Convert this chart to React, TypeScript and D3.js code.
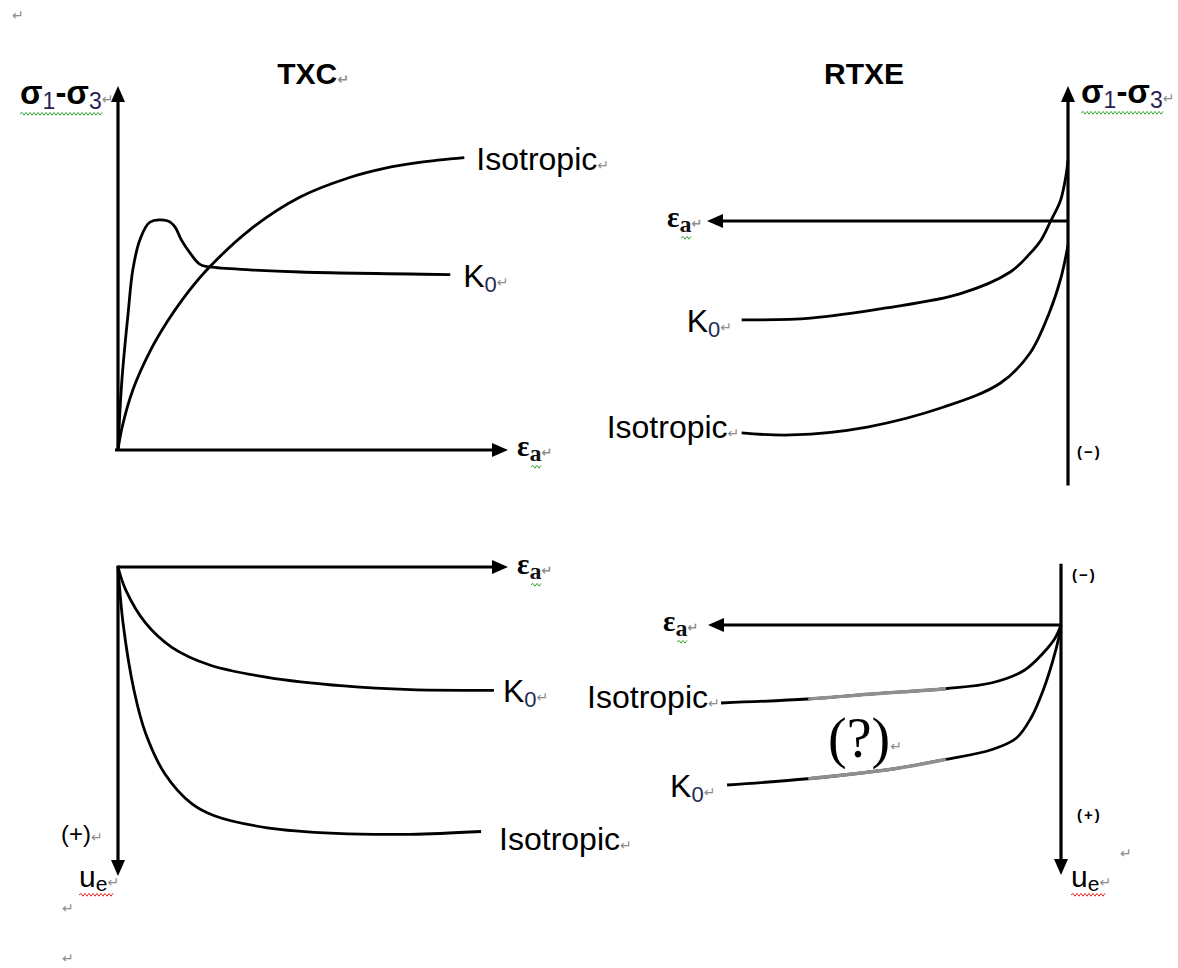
import React from "react";
import * as d3 from "d3";

type Pt = [number, number];

// Triaxial compression (TXC): deviator stress vs axial strain (normalised units)
const txcStressIsotropic: Pt[] = [
  [0, 0], [0.01, 0.06], [0.038, 0.165], [0.082, 0.271], [0.126, 0.352],
  [0.167, 0.416], [0.228, 0.495], [0.338, 0.605], [0.467, 0.695], [0.592, 0.748],
  [0.68, 0.773], [0.773, 0.79], [0.888, 0.803],
];
const txcStressK0: Pt[] = [
  [0, 0], [0.01, 0.192], [0.026, 0.376], [0.038, 0.495], [0.056, 0.577],
  [0.082, 0.626], [0.128, 0.629], [0.146, 0.613], [0.162, 0.578], [0.185, 0.541],
  [0.21, 0.51], [0.236, 0.503], [0.338, 0.495], [0.467, 0.489], [0.852, 0.482],
];

// TXC: excess pore pressure vs axial strain (positive downward)
const txcPoreK0: Pt[] = [
  [0, 0], [0.02, 0.075], [0.071, 0.182], [0.138, 0.26], [0.237, 0.318],
  [0.383, 0.357], [0.579, 0.385], [0.75, 0.397], [0.964, 0.399],
];
const txcPoreIsotropic: Pt[] = [
  [0, 0], [0.013, 0.182], [0.041, 0.399], [0.071, 0.539], [0.12, 0.669],
  [0.189, 0.766], [0.247, 0.805], [0.383, 0.844], [0.559, 0.862],
  [0.75, 0.865], [0.931, 0.856],
];

// Reduced triaxial extension (RTXE): deviator stress vs axial strain
const rtxeStressK0: Pt[] = [
  [0, 0.45], [0.006, 0.33], [0.021, 0.15], [0.048, 0.0], [0.075, -0.142],
  [0.105, -0.24], [0.16, -0.378], [0.3, -0.54], [0.504, -0.644],
  [0.713, -0.719], [0.904, -0.733],
];
const rtxeStressIsotropic: Pt[] = [
  [0, -0.178], [0.019, -0.415], [0.052, -0.681], [0.105, -0.978],
  [0.187, -1.2], [0.344, -1.378], [0.556, -1.526], [0.766, -1.585], [0.904, -1.57],
];

// RTXE: excess pore pressure vs axial strain
const rtxePoreIsotropic: Pt[] = [
  [0, 0], [0.017, 0.053], [0.051, 0.113], [0.105, 0.182], [0.195, 0.231],
  [0.328, 0.255], [0.528, 0.275], [0.718, 0.296], [0.963, 0.312],
];
const rtxePoreK0: Pt[] = [
  [0, 0], [0.006, 0.049], [0.023, 0.142], [0.051, 0.263], [0.085, 0.372],
  [0.127, 0.453], [0.195, 0.498], [0.328, 0.538], [0.472, 0.575],
  [0.718, 0.615], [0.946, 0.64],
];

const panelTitles = ["TXC", "RTXE"];
const curveNames = { iso: "Isotropic", k0: "K" };

// Scales for the four panels
const txcX = d3.scaleLinear().domain([0, 1]).range([118, 508]);
const txcStressY = d3.scaleLinear().domain([0, 1]).range([450, 86]);
const txcPoreY = d3.scaleLinear().domain([0, 1]).range([567, 876]);
const rtxeX = d3.scaleLinear().domain([0, 1]).range([1068, 707]);
const rtxeStressY = d3.scaleLinear().domain([0, 1]).range([221, 86]);
const rtxeStressYMin = -1.96;
const rtxePoreX = d3.scaleLinear().domain([0, 1]).range([1061, 708]);
const rtxePoreY = d3.scaleLinear().domain([0, 1]).range([625, 875]);
const rtxePoreYMin = -0.245;

const SANS = "'Liberation Sans', Arial, sans-serif";
const SERIF = "'Liberation Serif', 'Times New Roman', serif";
const INK = "#000";
const MARK = "#8c8c8c";
const LABEL_SIZE = 32;

const makeLine = (xs: d3.ScaleLinear<number, number>, ys: d3.ScaleLinear<number, number>) =>
  d3
    .line<Pt>()
    .x((d) => xs(d[0]))
    .y((d) => ys(d[1]))
    .curve(d3.curveCatmullRom.alpha(0.5));

type Dir = "up" | "down" | "left" | "right";
function arrowHead(x: number, y: number, dir: Dir, len = 16, half = 7) {
  const pts: Pt[] =
    dir === "up"
      ? [[x, y], [x - half, y + len], [x + half, y + len]]
      : dir === "down"
      ? [[x, y], [x - half, y - len], [x + half, y - len]]
      : dir === "left"
      ? [[x, y], [x + len, y - half], [x + len, y + half]]
      : [[x, y], [x - len, y - half], [x - len, y + half]];
  return <polygon points={pts.map((p) => p.join(",")).join(" ")} fill={INK} />;
}

function wavy(x0: number, x1: number, y: number, color: string) {
  const step = 2;
  let d = `M${x0},${y}`;
  let up = true;
  for (let x = x0 + step; x <= x1; x += step) {
    d += ` L${x},${up ? y - 1.6 : y + 1.2}`;
    up = !up;
  }
  return <path d={d} fill="none" stroke={color} strokeWidth={1} />;
}

const Ret = ({ dy = 0, size = 14 }: { dy?: number; size?: number }) => (
  <tspan fill={MARK} fontFamily="'DejaVu Sans', sans-serif" fontSize={size} dy={dy}>
    {"\u21B5"}
  </tspan>
);

function SigmaLabel({ x, y }: { x: number; y: number }) {
  return (
    <g>
      <text x={x} y={y} fontFamily={SANS} fontSize={33} fill={INK}>
        <tspan fontWeight="bold">σ</tspan>
        <tspan fontSize={23} dy={5} fill="#2a1f55">1</tspan>
        <tspan fontWeight="bold" dy={-5}>-σ</tspan>
        <tspan fontSize={23} dy={5} fill="#2a1f55">3</tspan>
        <Ret dy={-5} />
      </text>
      {wavy(x, x + 83, y + 10, "#3aa83a")}
    </g>
  );
}

function EpsLabel({ x, y }: { x: number; y: number }) {
  return (
    <g>
      <text x={x} y={y} fontFamily={SERIF} fontWeight="bold" fontSize={29} fill={INK}>
        <tspan>ε</tspan>
        <tspan fontSize={24} dy={5} fill="#111">a</tspan>
        <Ret dy={-4} size={13} />
      </text>
      {wavy(x + 14, x + 24, y + 11, "#3aa83a")}
    </g>
  );
}

function K0Label({ x, y }: { x: number; y: number }) {
  return (
    <text x={x} y={y} fontFamily={SANS} fontSize={LABEL_SIZE} fill={INK}>
      <tspan>{curveNames.k0}</tspan>
      <tspan fontSize={22} dy={5} fill="#1f2a55">0</tspan>
      <Ret dy={-5} />
    </text>
  );
}

function IsoLabel({ x, y }: { x: number; y: number }) {
  return (
    <text x={x} y={y} fontFamily={SANS} fontSize={LABEL_SIZE} fill={INK}>
      {curveNames.iso}
      <Ret />
    </text>
  );
}

function UeLabel({ x, y }: { x: number; y: number }) {
  return (
    <g>
      <text x={x} y={y} fontFamily={SANS} fontSize={30} fill={INK}>
        <tspan>u</tspan>
        <tspan fontSize={21} dy={4}>e</tspan>
        <Ret dy={-4} />
      </text>
      {wavy(x, x + 34, y + 8, "#e02a2a")}
    </g>
  );
}

const SignLabel = ({ x, y, s }: { x: number; y: number; s: string }) => (
  <text x={x} y={y} fontFamily={SANS} fontWeight="bold" fontSize={15} letterSpacing={2} fill={INK}>
    {s}
  </text>
);

export default function App() {
  const lTxcS = makeLine(txcX, txcStressY);
  const lTxcP = makeLine(txcX, txcPoreY);
  const lRtS = makeLine(rtxeX, rtxeStressY);
  const lRtP = makeLine(rtxePoreX, rtxePoreY);

  const axisW = 3.2;
  const curveW = 2.8;
  const last = (a: Pt[]) => a[a.length - 1];
  const paleLeft = rtxePoreX(0.716);
  const paleRight = rtxePoreX(0.326);

  return (
    <svg
      width={1178}
      height={968}
      style={{ position: "absolute", left: 0, top: 0, background: "#fff" }}
    >
      <defs>
        <clipPath id="rt-pale">
          <rect x={paleLeft} y={660} width={paleRight - paleLeft} height={140} />
        </clipPath>
      </defs>
      <rect width={1178} height={968} fill="#fff" />

      {/* stray paragraph marks */}
      <text x={12} y={20}><Ret /></text>
      <text x={62} y={913}><Ret /></text>
      <text x={62} y={963}><Ret /></text>
      <text x={1120} y={858}><Ret /></text>

      {/* titles */}
      <text x={313} y={84} textAnchor="middle" fontFamily={SANS} fontWeight="bold" fontSize={30}>
        {panelTitles[0]}
        <Ret />
      </text>
      <text x={864} y={84} textAnchor="middle" fontFamily={SANS} fontWeight="bold" fontSize={30}>
        {panelTitles[1]}
      </text>

      {/* ---- TXC stress panel ---- */}
      <line x1={txcX(0)} y1={txcStressY(0)} x2={txcX(0)} y2={txcStressY(1) + 10} stroke={INK} strokeWidth={axisW} />
      {arrowHead(txcX(0), txcStressY(1), "up")}
      <line x1={txcX(0) - 3} y1={txcStressY(0)} x2={txcX(1) - 10} y2={txcStressY(0)} stroke={INK} strokeWidth={axisW} />
      {arrowHead(txcX(1), txcStressY(0), "right")}
      <path d={lTxcS(txcStressIsotropic) || ""} fill="none" stroke={INK} strokeWidth={curveW} />
      <path d={lTxcS(txcStressK0) || ""} fill="none" stroke={INK} strokeWidth={curveW} />
      <SigmaLabel x={20} y={104} />
      <IsoLabel x={txcX(last(txcStressIsotropic)[0]) + 12} y={txcStressY(last(txcStressIsotropic)[1]) + 12} />
      <K0Label x={txcX(last(txcStressK0)[0]) + 13} y={txcStressY(last(txcStressK0)[1]) + 12} />
      <EpsLabel x={txcX(1) + 9} y={txcStressY(0) + 6} />

      {/* ---- TXC pore-pressure panel ---- */}
      <line x1={txcX(0)} y1={txcPoreY(0)} x2={txcX(1) - 10} y2={txcPoreY(0)} stroke={INK} strokeWidth={axisW} />
      {arrowHead(txcX(1), txcPoreY(0), "right")}
      <line x1={txcX(0)} y1={txcPoreY(0) - 1.5} x2={txcX(0)} y2={txcPoreY(1) - 10} stroke={INK} strokeWidth={axisW} />
      {arrowHead(txcX(0), txcPoreY(1), "down")}
      <path d={lTxcP(txcPoreK0) || ""} fill="none" stroke={INK} strokeWidth={curveW} />
      <path d={lTxcP(txcPoreIsotropic) || ""} fill="none" stroke={INK} strokeWidth={curveW} />
      <EpsLabel x={txcX(1) + 9} y={txcPoreY(0) + 7} />
      <K0Label x={txcX(last(txcPoreK0)[0]) + 9} y={txcPoreY(last(txcPoreK0)[1]) + 12} />
      <IsoLabel x={txcX(last(txcPoreIsotropic)[0]) + 18} y={txcPoreY(last(txcPoreIsotropic)[1]) + 18} />
      <text x={61} y={842} fontFamily={SANS} fontSize={24} fill={INK}>
        (+)
        <Ret />
      </text>
      <UeLabel x={79} y={887} />

      {/* ---- RTXE stress panel ---- */}
      <line x1={rtxeX(0)} y1={rtxeStressY(rtxeStressYMin)} x2={rtxeX(0)} y2={rtxeStressY(1) + 10} stroke={INK} strokeWidth={axisW} />
      {arrowHead(rtxeX(0), rtxeStressY(1), "up")}
      <line x1={rtxeX(0)} y1={rtxeStressY(0)} x2={rtxeX(1) + 10} y2={rtxeStressY(0)} stroke={INK} strokeWidth={axisW} />
      {arrowHead(rtxeX(1), rtxeStressY(0), "left")}
      <path d={lRtS(rtxeStressK0) || ""} fill="none" stroke={INK} strokeWidth={curveW} />
      <path d={lRtS(rtxeStressIsotropic) || ""} fill="none" stroke={INK} strokeWidth={curveW} />
      <SigmaLabel x={1081} y={103} />
      <EpsLabel x={rtxeX(1) - 40} y={rtxeStressY(0) + 6} />
      <K0Label x={rtxeX(last(rtxeStressK0)[0]) - 55} y={rtxeStressY(last(rtxeStressK0)[1]) + 12} />
      <IsoLabel x={rtxeX(last(rtxeStressIsotropic)[0]) - 135} y={rtxeStressY(last(rtxeStressIsotropic)[1]) + 5} />
      <SignLabel x={1077} y={457} s="(−)" />

      {/* ---- RTXE pore-pressure panel ---- */}
      <line x1={rtxePoreX(0)} y1={rtxePoreY(rtxePoreYMin)} x2={rtxePoreX(0)} y2={rtxePoreY(1) - 10} stroke={INK} strokeWidth={axisW} />
      {arrowHead(rtxePoreX(0), rtxePoreY(1), "down")}
      <line x1={rtxePoreX(0)} y1={rtxePoreY(0)} x2={rtxePoreX(1) + 10} y2={rtxePoreY(0)} stroke={INK} strokeWidth={axisW} />
      {arrowHead(rtxePoreX(1), rtxePoreY(0), "left")}
      <path d={lRtP(rtxePoreIsotropic) || ""} fill="none" stroke={INK} strokeWidth={curveW} />
      <path d={lRtP(rtxePoreK0) || ""} fill="none" stroke={INK} strokeWidth={curveW} />
      <g clipPath="url(#rt-pale)">
        <path d={lRtP(rtxePoreIsotropic) || ""} fill="none" stroke="#8f8f8f" strokeWidth={curveW + 0.6} />
        <path d={lRtP(rtxePoreK0) || ""} fill="none" stroke="#8f8f8f" strokeWidth={curveW + 0.6} />
      </g>
      <EpsLabel x={rtxePoreX(1) - 45} y={rtxePoreY(0) + 6} />
      <IsoLabel x={rtxePoreX(last(rtxePoreIsotropic)[0]) - 134} y={rtxePoreY(last(rtxePoreIsotropic)[1]) + 5} />
      <K0Label x={rtxePoreX(last(rtxePoreK0)[0]) - 57} y={rtxePoreY(last(rtxePoreK0)[1]) + 12} />
      <text x={828} y={757} fontFamily={SERIF} fontSize={56} fill={INK}>
        (?)
        <Ret dy={-6} size={14} />
      </text>
      <SignLabel x={1072} y={580} s="(−)" />
      <SignLabel x={1077} y={820} s="(+)" />
      <UeLabel x={1071} y={887} />
    </svg>
  );
}
